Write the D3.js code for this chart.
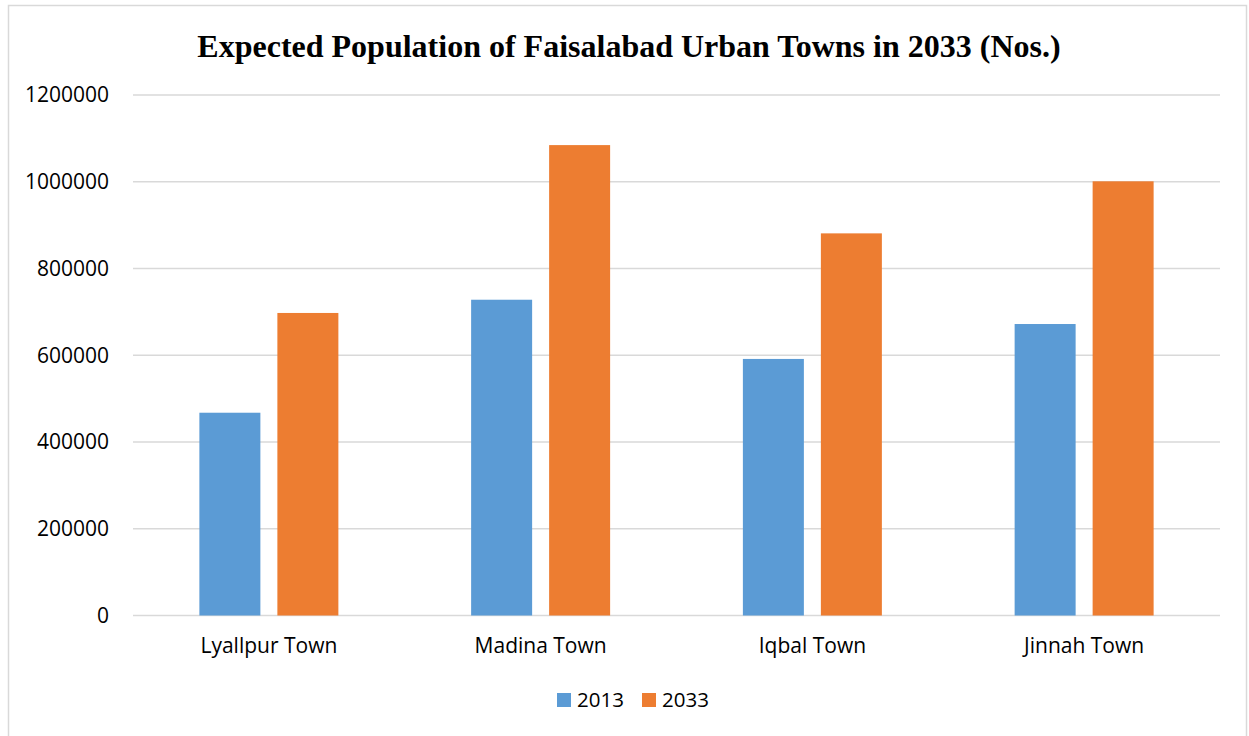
<!DOCTYPE html>
<html lang="en">
<head>
  <meta charset="UTF-8">
  <title>Expected Population of Faisalabad Urban Towns in 2033</title>
  <style>
    body { margin: 0; background: #fff; }
    svg { display: block; }
  </style>
</head>
<body>

  <svg id="svg" width="1249" height="736"></svg>

  <script src="https://d3js.org/d3.v7.min.js"></script>
  <script>

    // data
    const towns = ['Lyallpur Town', 'Madina Town', 'Iqbal Town', 'Jinnah Town']
    const years = ['2013', '2033']
    const pop2013 = [467500, 728000, 591500, 672000]
    const pop2033 = [697500, 1084500, 881000, 1001000]
    const yTicks = [0, 200000, 400000, 600000, 800000, 1000000, 1200000]
    const colors = ['#5B9BD5', '#ED7D31']

    const rows = towns.map((t, i) => ({ town: t, values: [pop2013[i], pop2033[i]] }))

    const svg = d3.select('#svg')
    const labelFont = '"Open Sans", "Liberation Sans", sans-serif'

    // chart border
    svg.append('rect')
      .attr('x', 8.5).attr('y', 5.5)
      .attr('width', 1238).attr('height', 740)
      .attr('fill', '#fff')
      .attr('stroke', '#d9d9d9')
      .attr('stroke-width', 1.5)

    const plotLeft = 133, plotRight = 1220, plotTop = 95, plotBottom = 615.5

    const xScale = d3.scaleBand()
      .domain(towns)
      .range([plotLeft, plotRight])

    const xInner = d3.scaleBand()
      .domain(years)
      .range([0, xScale.bandwidth()])
      .paddingInner(0.218)
      .paddingOuter(0.851)

    const yScale = d3.scaleLinear()
      .domain([0, 1200000])
      .range([plotBottom, plotTop])

    // gridlines
    svg.append('g')
      .selectAll('line')
      .data(yTicks)
      .enter()
      .append('line')
      .attr('x1', plotLeft)
      .attr('x2', plotRight)
      .attr('y1', d => yScale(d))
      .attr('y2', d => yScale(d))
      .attr('stroke', '#d9d9d9')
      .attr('stroke-width', 1.5)

    // y axis labels
    svg.append('g')
      .selectAll('text')
      .data(yTicks)
      .enter()
      .append('text')
      .attr('x', 109)
      .attr('y', d => yScale(d))
      .attr('dy', '0.35em')
      .attr('text-anchor', 'end')
      .attr('font-family', labelFont)
      .attr('font-size', 21)
      .attr('fill', '#000')
      .text(d => d)

    // bars
    svg.append('g')
      .selectAll('g')
      .data(rows)
      .enter()
      .append('g')
      .attr('transform', d => `translate(${xScale(d.town)},0)`)
      .selectAll('rect')
      .data(d => d.values.map((v, i) => ({ year: years[i], value: v, i: i })))
      .enter()
      .append('rect')
      .attr('x', d => xInner(d.year))
      .attr('width', xInner.bandwidth())
      .attr('y', d => yScale(d.value))
      .attr('height', d => yScale(0) - yScale(d.value))
      .attr('fill', d => colors[d.i])

    // category labels
    svg.append('g')
      .selectAll('text')
      .data(towns)
      .enter()
      .append('text')
      .attr('x', d => xScale(d) + xScale.bandwidth() / 2)
      .attr('y', 653)
      .attr('text-anchor', 'middle')
      .attr('font-family', labelFont)
      .attr('font-size', 21)
      .attr('fill', '#000')
      .text(d => d)

    // title
    svg.append('text')
      .attr('x', 629)
      .attr('y', 57)
      .attr('text-anchor', 'middle')
      .attr('font-family', '"Liberation Serif", "Times New Roman", serif')
      .attr('font-weight', 'bold')
      .attr('font-size', 32)
      .attr('fill', '#000')
      .text('Expected Population of Faisalabad Urban Towns in 2033 (Nos.)')

    // legend
    const legendX = [557, 642]
    const legend = svg.append('g')
      .selectAll('g')
      .data(years)
      .enter()
      .append('g')
      .attr('transform', (d, i) => `translate(${legendX[i]},693)`)

    legend.append('rect')
      .attr('width', 14).attr('height', 14)
      .attr('fill', (d, i) => colors[i])

    legend.append('text')
      .attr('x', 20)
      .attr('y', 7)
      .attr('dy', '0.35em')
      .attr('font-family', labelFont)
      .attr('font-size', 20.5)
      .attr('fill', '#000')
      .text(d => d)

  </script>
</body>
</html>
